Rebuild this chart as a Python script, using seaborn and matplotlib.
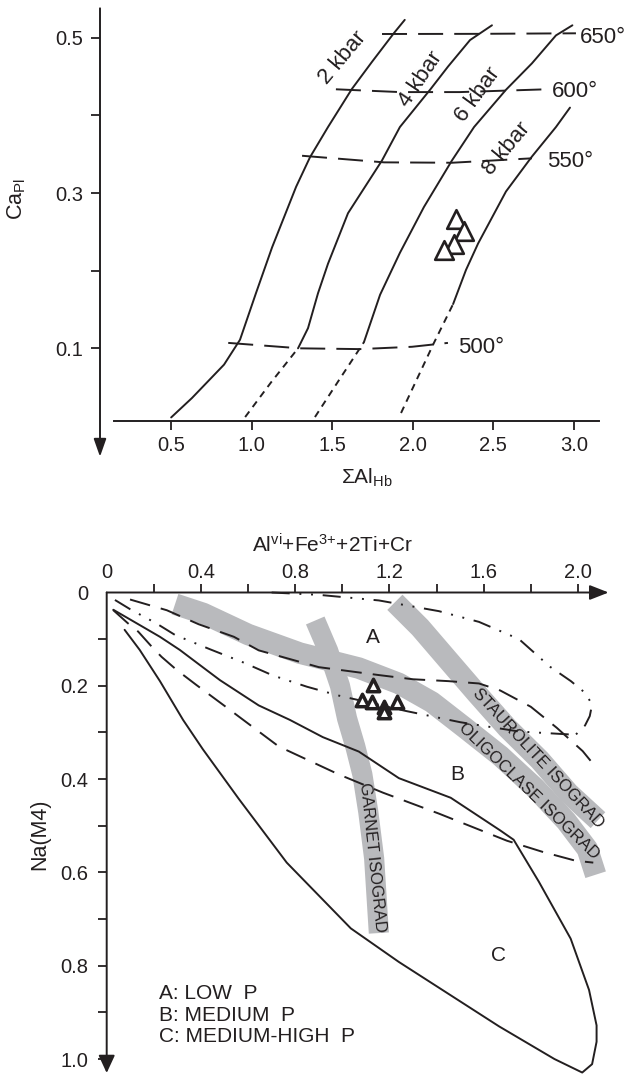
import numpy as np
import matplotlib
matplotlib.use("Agg")
import matplotlib.pyplot as plt
import seaborn as sns

sns.set_style("ticks")
plt.rcParams['font.family'] = ['Liberation Sans', 'DejaVu Sans']
plt.rcParams['mathtext.fontset'] = 'custom'
plt.rcParams['mathtext.rm'] = 'Liberation Sans'
plt.rcParams['mathtext.it'] = 'Liberation Sans:italic'
plt.rcParams['mathtext.default'] = 'regular'
plt.rcParams['lines.scale_dashes'] = False

INK = '#231f20'
GRAY = '#b9babd'

# ---------------- top panel data (Sum Al_Hb vs Ca_Pl) ----------------
p2_x = [0.501, 0.630, 0.829, 0.928, 1.027, 1.127, 1.276, 1.362, 1.474, 1.622, 1.747, 1.883, 1.950]
p2_y = [0.011, 0.036, 0.079, 0.111, 0.171, 0.230, 0.308, 0.346, 0.385, 0.434, 0.469, 0.506, 0.523]
p4_dash_x = [0.960, 1.120, 1.288]
p4_dash_y = [0.0115, 0.056, 0.100]
p4_x = [1.288, 1.350, 1.412, 1.474, 1.598, 1.809, 1.920, 2.107, 2.219, 2.355, 2.491]
p4_y = [0.100, 0.126, 0.171, 0.209, 0.274, 0.342, 0.385, 0.433, 0.463, 0.497, 0.516]
p6_dash_x = [1.393, 1.545, 1.697]
p6_dash_y = [0.0115, 0.060, 0.108]
p6_x = [1.697, 1.797, 1.920, 2.069, 2.243, 2.380, 2.578, 2.739, 2.888, 2.990]
p6_y = [0.108, 0.169, 0.223, 0.282, 0.342, 0.385, 0.433, 0.467, 0.503, 0.516]
p8_dash_x = [1.927, 2.131, 2.250]
p8_dash_y = [0.0167, 0.107, 0.157]
p8_x = [2.250, 2.330, 2.405, 2.578, 2.739, 2.888, 2.975]
p8_y = [0.157, 0.201, 0.235, 0.302, 0.347, 0.385, 0.410]
t650_x = [1.809, 2.400, 3.012]
t650_y = [0.5048, 0.5050, 0.5057]
t600_x = [1.523, 1.920, 2.293, 2.830]
t600_y = [0.4336, 0.4300, 0.4300, 0.4336]
t550_x = [1.313, 1.822, 2.243, 2.739]
t550_y = [0.3480, 0.3395, 0.3390, 0.3447]
t500_x = [0.855, 1.300, 1.672, 1.995, 2.218]
t500_y = [0.107, 0.100, 0.099, 0.102, 0.107]
top_pts_x = [2.268, 2.320, 2.256, 2.194]
top_pts_y = [0.267, 0.2515, 0.2347, 0.2262]
top_xticks = [0.5, 1.0, 1.5, 2.0, 2.5, 3.0]
top_xticklabels = ['0.5', '1.0', '1.5', '2.0', '2.5', '3.0']
top_yticks = [0.1, 0.3, 0.5]
top_yticklabels = ['0.1', '0.3', '0.5']
top_yminor = [0.2, 0.4]
pressure_labels = ['2 kbar', '4 kbar', '6 kbar', '8 kbar']
temp_labels = ['650°', '600°', '550°', '500°']

# ---------------- bottom panel data (AlVI+Fe3+... vs Na(M4)) ----------------
ab_x = [0.099, 0.255, 0.390, 0.540, 0.645, 0.900, 1.155, 1.300, 1.450, 1.580, 1.670, 1.800, 1.910, 2.020, 2.080]
ab_y = [0.015, 0.038, 0.068, 0.095, 0.124, 0.160, 0.177, 0.186, 0.190, 0.195, 0.210, 0.245, 0.290, 0.340, 0.377]
low_x = [0.027, 0.090, 0.134, 0.198, 0.233, 0.297, 0.380, 0.500, 0.730, 0.985, 1.172, 1.410, 1.698, 1.850, 1.990, 2.065]
low_y = [0.0375, 0.066, 0.084, 0.120, 0.138, 0.166, 0.198, 0.243, 0.330, 0.390, 0.429, 0.474, 0.532, 0.556, 0.575, 0.579]
inner_dd_x = [0.035, 0.100, 0.210, 0.290, 0.440, 0.580, 0.706, 0.850, 0.985, 1.150, 1.270, 1.500, 1.750, 1.990]
inner_dd_y = [0.016, 0.036, 0.066, 0.091, 0.122, 0.150, 0.178, 0.202, 0.221, 0.240, 0.254, 0.278, 0.298, 0.305]
outer_dd_x = [0.700, 0.900, 1.155, 1.410, 1.580, 1.750, 1.881, 1.970, 2.030, 2.060, 2.050, 2.030, 1.990]
outer_dd_y = [0.000, 0.005, 0.017, 0.040, 0.063, 0.100, 0.159, 0.190, 0.215, 0.240, 0.265, 0.285, 0.305]
c_outer_x = [0.076, 0.140, 0.226, 0.324, 0.408, 0.560, 0.764, 1.036, 1.240, 1.665, 1.900, 2.018, 2.060, 2.079,
             2.079, 2.047, 1.969, 1.834, 1.727]
c_outer_y = [0.080, 0.123, 0.190, 0.273, 0.336, 0.442, 0.579, 0.720, 0.792, 0.930, 1.000, 1.029, 1.011, 0.963,
             0.928, 0.852, 0.742, 0.620, 0.530]
c_upper_x = [1.670, 1.460, 1.240, 1.070, 0.917, 0.777, 0.645, 0.481, 0.423, 0.310, 0.226, 0.100, 0.028]
c_upper_y = [0.510, 0.440, 0.398, 0.341, 0.310, 0.273, 0.242, 0.188, 0.166, 0.123, 0.095, 0.058, 0.037]
olig_x = [0.290, 0.410, 0.600, 0.820, 1.070, 1.240, 1.380, 1.520, 1.670, 1.820, 1.950, 2.040, 2.075]
olig_y = [0.025, 0.045, 0.090, 0.130, 0.162, 0.195, 0.235, 0.290, 0.350, 0.420, 0.490, 0.550, 0.605]
staur_x = [1.223, 1.330, 1.449, 1.570, 1.700, 1.838, 1.960, 2.085]
staur_y = [0.021, 0.075, 0.145, 0.216, 0.290, 0.359, 0.430, 0.488]
garnet_x = [0.885, 0.940, 0.990, 1.020, 1.055, 1.085, 1.110, 1.135, 1.155]
garnet_y = [0.060, 0.125, 0.200, 0.270, 0.330, 0.390, 0.470, 0.570, 0.730]
bot_pts_x = [1.132, 1.083, 1.125, 1.175, 1.175, 1.231]
bot_pts_y = [0.198, 0.230, 0.234, 0.246, 0.2555, 0.234]
bot_xticks = [0.0, 0.4, 0.8, 1.2, 1.6, 2.0]
bot_xticklabels = ['0', '0.4', '0.8', '1.2', '1.6', '2.0']
bot_xminor = [0.2, 0.6, 1.0, 1.4, 1.8]
bot_yticks = [0.0, 0.2, 0.4, 0.6, 0.8, 1.0]
bot_yticklabels = ['0', '0.2', '0.4', '0.6', '0.8', '1.0']
bot_yminor = [0.1, 0.3, 0.5, 0.7, 0.9]
field_letters = ['A', 'B', 'C']
legend_lines = ['A: LOW  P', 'B: MEDIUM  P', 'C: MEDIUM-HIGH  P']
band_labels = ['STAUROLITE ISOGRAD', 'OLIGOCLASE ISOGRAD', 'GARNET ISOGRAD']

# ---------------- styles ----------------
LW = 1.4
LONG_T = (0, (18, 8))
SHORT = (0, (5, 4))
LONG_B = (0, (15, 8))
DDOT = (0, (13, 7, 1.4, 7, 1.4, 7))

W, H = 624, 1075
fig = plt.figure(figsize=(W / 100, H / 100), dpi=100)


def box(l, t, r, b):
    return [l / W, 1 - b / H, (r - l) / W, (b - t) / H]


def draw(ax, xs, ys, ls='-', lw=LW, color=INK, z=3, **kw):
    sns.lineplot(x=np.asarray(xs, float), y=np.asarray(ys, float), ax=ax, sort=False,
                 estimator=None, color=color, linewidth=lw, linestyle=ls, zorder=z,
                 clip_on=False, dash_capstyle='butt', **kw)


# ======================= TOP PANEL =======================
ax1 = fig.add_axes(box(100, 8.3, 599, 420.7))
for xs, ys in [(p2_x, p2_y), (p4_x, p4_y), (p6_x, p6_y), (p8_x, p8_y)]:
    draw(ax1, xs, ys)
for xs, ys in [(p4_dash_x, p4_dash_y), (p6_dash_x, p6_dash_y), (p8_dash_x, p8_dash_y)]:
    draw(ax1, xs, ys, ls=SHORT)
for xs, ys in [(t650_x, t650_y), (t600_x, t600_y), (t550_x, t550_y), (t500_x, t500_y)]:
    draw(ax1, xs, ys, ls=LONG_T)
sns.scatterplot(x=top_pts_x, y=top_pts_y, ax=ax1, marker='^', s=180, color='white',
                edgecolor=INK, linewidth=1.9, zorder=6, clip_on=False)

kb_pos = [(1.567, 0.4745, 50), (2.048, 0.4462, 56), (2.404, 0.4262, 54), (2.583, 0.3576, 50)]
for lab, (x, y, r) in zip(pressure_labels, kb_pos):
    ax1.text(x, y, lab, rotation=r, rotation_mode='anchor', ha='center', va='center',
             fontsize=16, color=INK)
t_pos = [(3.037, 0.4928), (2.862, 0.4240), (2.831, 0.3339), (2.280, 0.0944)]
for lab, (x, y) in zip(temp_labels, t_pos):
    ax1.text(x, y, lab, ha='left', va='baseline', fontsize=16, color=INK)

ax1.set_xlim(0.0596, 3.155)
ax1.set_ylim(0.0068, 0.5379)
ax1.set_xticks(top_xticks)
ax1.set_xticklabels(top_xticklabels)
ax1.set_yticks(top_yticks)
ax1.set_yticklabels(top_yticklabels)
ax1.set_yticks(top_yminor, minor=True)
for s in ['top', 'right', 'left']:
    ax1.spines[s].set_visible(False)
ax1.spines['bottom'].set_bounds(0.146, 3.155)
ax1.spines['bottom'].set_linewidth(LW)
ax1.spines['bottom'].set_color(INK)
ax1.tick_params(axis='both', which='both', direction='out', length=6.3, width=1.3,
                color=INK, labelsize=14.5, labelcolor=INK)
ax1.tick_params(axis='y', which='both', pad=6.0)
ax1.tick_params(axis='x', which='both', pad=4.5)
ax1.annotate('', xy=(0, -0.0873), xytext=(0, 1.0), xycoords='axes fraction',
             textcoords='axes fraction',
             arrowprops=dict(arrowstyle='-|>,head_length=1.08,head_width=0.38',
                             mutation_scale=10, lw=LW, color=INK, shrinkA=0, shrinkB=0))
ax1.set_xlabel('ΣAl$_{Hb}$', fontsize=15, color=INK, ha='left', va='baseline')
ax1.xaxis.set_label_coords(0.482, -0.152)
ax1.set_ylabel('Ca$_{Pl}$', fontsize=15.5, color=INK, va='center', ha='center')
ax1.yaxis.set_label_coords(-0.166, 0.537)

# ======================= BOTTOM PANEL =======================
ax2 = fig.add_axes(box(106.7, 592.5, 608.6, 1073))
draw(ax2, olig_x, olig_y, lw=15.5, color=GRAY, z=1, solid_capstyle='butt', solid_joinstyle='round')
draw(ax2, staur_x, staur_y, lw=15.5, color=GRAY, z=1, solid_capstyle='butt', solid_joinstyle='round')
draw(ax2, garnet_x, garnet_y, lw=14.5, color=GRAY, z=1, solid_capstyle='butt', solid_joinstyle='round')

draw(ax2, c_outer_x + c_upper_x, c_outer_y + c_upper_y)
draw(ax2, low_x, low_y, ls=LONG_B)
draw(ax2, ab_x, ab_y, ls=LONG_B)
draw(ax2, inner_dd_x, inner_dd_y, ls=DDOT)
draw(ax2, outer_dd_x, outer_dd_y, ls=DDOT)

sns.scatterplot(x=bot_pts_x, y=bot_pts_y, ax=ax2, marker='^', s=80, color='white',
                edgecolor=INK, linewidth=2.5, zorder=6, clip_on=False)

band_pos = [(1.830, 0.355, -47), (1.790, 0.4265, -44), (1.127, 0.568, -84)]
for lab, (x, y, r) in zip(band_labels, band_pos):
    ax2.text(x, y, lab, rotation=r, rotation_mode='anchor', ha='center', va='center',
             fontsize=12, color=INK, zorder=4)
letter_pos = [(1.13, 0.097), (1.486, 0.390), (1.662, 0.778)]
for lab, (x, y) in zip(field_letters, letter_pos):
    ax2.text(x, y, lab, ha='center', va='center', fontsize=15, color=INK)
leg_y = [0.872, 0.918, 0.963]
for lab, y in zip(legend_lines, leg_y):
    ax2.text(0.2234, y, lab, ha='left', va='baseline', fontsize=15, color=INK)

ax2.set_xlim(0, 2.13)
ax2.set_ylim(1.03, 0)
ax2.xaxis.tick_top()
ax2.set_xticks(bot_xticks)
ax2.set_xticklabels(bot_xticklabels)
ax2.set_xticks(bot_xminor, minor=True)
ax2.set_yticks(bot_yticks)
ax2.set_yticklabels(bot_yticklabels)
ax2.set_yticks(bot_yminor, minor=True)
for s in ['top', 'right', 'left', 'bottom']:
    ax2.spines[s].set_visible(False)
ax2.tick_params(axis='both', which='both', direction='out', length=6.8, width=1.3,
                color=INK, labelsize=14.5, labelcolor=INK)
ax2.tick_params(axis='x', which='both', pad=0.5)
ax2.tick_params(axis='y', which='both', pad=6.5)
ax2.xaxis.get_major_ticks()[0].tick2line.set_visible(False)
ax2.yaxis.get_major_ticks()[0].tick1line.set_visible(False)
ax2.annotate('', xy=(1.0, 1.0), xytext=(0, 1.0), xycoords='axes fraction',
             textcoords='axes fraction',
             arrowprops=dict(arrowstyle='-|>,head_length=1.15,head_width=0.45',
                             mutation_scale=10, lw=LW, color=INK, shrinkA=0, shrinkB=0))
ax2.annotate('', xy=(0, 0.0), xytext=(0, 1.0), xycoords='axes fraction',
             textcoords='axes fraction',
             arrowprops=dict(arrowstyle='-|>,head_length=1.08,head_width=0.5',
                             mutation_scale=10, lw=LW, color=INK, shrinkA=0, shrinkB=0))
ax2.xaxis.set_label_position('top')
ax2.set_xlabel('Al$^{vi}$+Fe$^{3{+}}$+2Ti+Cr', fontsize=15, color=INK, ha='left', va='baseline')
ax2.xaxis.set_label_coords(0.290, 1.0828)
ax2.set_ylabel('Na(M4)', fontsize=15.5, color=INK, va='center', ha='center')
ax2.yaxis.set_label_coords(-0.133, 0.4974)

fig.savefig('out.png', dpi=100)
